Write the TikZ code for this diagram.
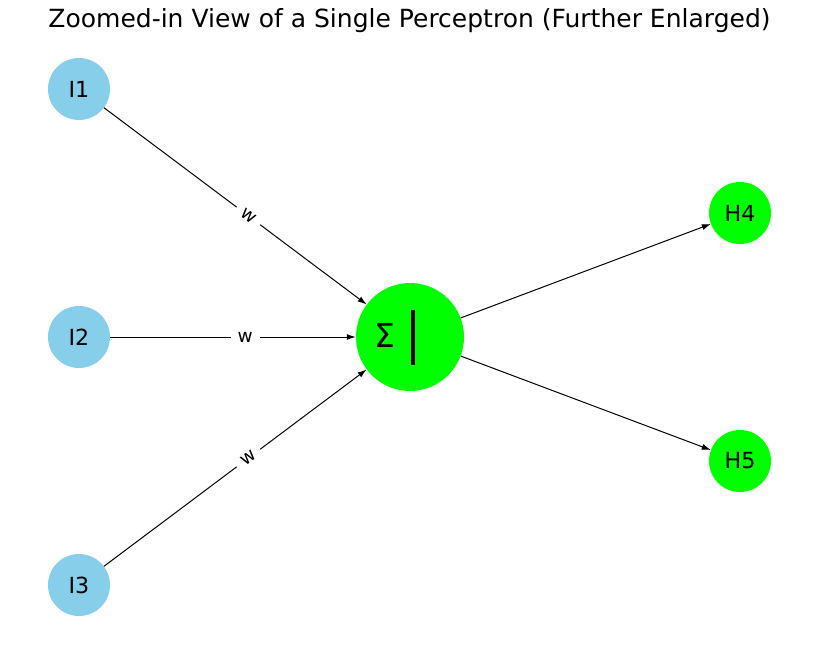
\documentclass[tikz,border=0pt]{standalone}
\usepackage{fontspec}
\setmainfont{DejaVu Sans}
\usetikzlibrary{arrows.meta}
\definecolor{skyblue}{HTML}{87CEEB}
\definecolor{limegreen}{HTML}{00FF00}
\tikzset{
    inp/.style={circle,fill=skyblue,minimum size=62pt,inner sep=0pt,font=\fontsize{22.2}{25}\selectfont},
    hid/.style={circle,fill=limegreen,minimum size=62pt,inner sep=0pt,font=\fontsize{22.2}{25}\selectfont},
    sumnode/.style={circle,fill=limegreen,minimum size=108pt,inner sep=0pt},
    link/.style={-{Latex[length=9pt,width=6pt]},line width=1pt,black},
    wlab/.style={sloped,pos=0.55,fill=white,inner xsep=7pt,inner ysep=3pt,font=\fontsize{18.5}{21}\selectfont},
}
\begin{document}
\begin{tikzpicture}[x=1pt,y=-1pt]
\useasboundingbox (0,0) rectangle (819,647);
\node[font=\fontsize{25}{29}\selectfont] (title) at (409.5,21) {Zoomed-in View of a Single Perceptron (Further Enlarged)};

        % inputs
        \node[inp] (i1) at (79,89) {I1};
        \node[inp] (i2) at (79,337) {I2};
        \node[inp] (i3) at (79,585) {I3};

        % perceptron
        \node[sumnode] (p) at (410,337) {};
        \node[font=\fontsize{33}{36}\selectfont] (sig) at (385,335) {Σ};
        \coordinate (bt) at (412.5,310);
        \coordinate (bb) at (412.5,365);
        \draw[line width=4pt] (bt) -- (bb);

        % outputs
        \node[hid] (h4) at (740,213) {H4};
        \node[hid] (h5) at (740,461) {H5};


        \foreach \n in {i1,i2,i3} {
            \draw[link] (\n) -- (p) node[wlab] {w};
        }
        \draw[link] (p) -- (h4);
        \draw[link] (p) -- (h5);
\end{tikzpicture}
\end{document}
